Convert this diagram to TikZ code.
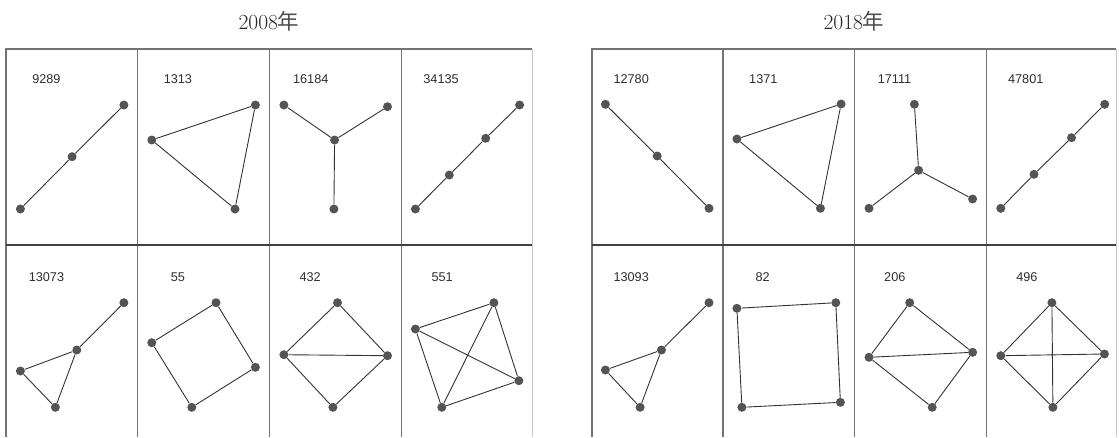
\documentclass[tikz,border=0pt]{standalone}
\usepackage{fontspec}
\newfontfamily\labfont{Liberation Sans}
\newfontfamily\cjk{Noto Sans CJK JP}
\begin{document}
\begin{tikzpicture}[x=1pt,y=-1pt,
  dot/.style={circle,fill=black!67,inner sep=0pt,minimum size=9pt},
  edge/.style={draw=black!80,line width=0.9pt},
  frame/.style={draw=black!55,line width=1.3pt},
  lightframe/.style={draw=black!22,line width=1pt},
  midline/.style={draw=black!75,line width=1.3pt},
  lab/.style={anchor=west,inner sep=0pt,text=black!82,font=\labfont\fontsize{12.7}{14}\selectfont},
  ttl/.style={inner sep=0pt,text=black!85,font=\fontsize{21.5}{24}\selectfont}]
\useasboundingbox (0,0) rectangle (1119,437);
% titles
\node[ttl] (t1) at (269,21) {2008{\cjk\color{black!70}年}};
\node[ttl] (t2) at (854,21) {2018{\cjk\color{black!70}年}};
% frames left
\draw[frame] (6,437) -- (6,49) -- (532,49);
\draw[lightframe] (532,49) -- (532,437);
\draw[frame] (137.5,49) -- (137.5,437);
\draw[frame] (269.6,49) -- (269.6,437);
\draw[frame] (401.8,49) -- (401.8,437);
\draw[midline] (6,245) -- (532,245);
% frames right
\draw[frame] (592,437) -- (592,49) -- (1116,49);
\draw[lightframe] (1116,49) -- (1116,437);
\draw[frame] (723,49) -- (723,437);
\draw[frame] (854.7,49) -- (854.7,437);
\draw[frame] (986.5,49) -- (986.5,437);
\draw[midline] (592,245) -- (1116,245);
% labels
\node[lab] (l1) at (32.1,79) {9289};
\node[lab] (l2) at (163.6,79) {1313};
\node[lab] (l3) at (292.9,79) {16184};
\node[lab] (l4) at (423.2,79) {34135};
\node[lab] (l5) at (28.6,277) {13073};
\node[lab] (l6) at (170.7,277) {55};
\node[lab] (l7) at (299.3,277) {432};
\node[lab] (l8) at (431.4,277) {551};
\node[lab] (r1) at (613.3,79) {12780};
\node[lab] (r2) at (749,79) {1371};
\node[lab] (r3) at (877.6,79) {17111};
\node[lab] (r4) at (1007.9,79) {47801};
\node[lab] (r5) at (613.3,277) {13093};
\node[lab] (r6) at (755.4,277) {82};
\node[lab] (r7) at (884,277) {206};
\node[lab] (r8) at (1016.1,277) {496};
% ---- 9289
\node[dot] (a1) at (123.9,105) {};
\node[dot] (a2) at (72.1,156.7) {};
\node[dot] (a3) at (20.4,209) {};
\draw[edge] (a1) -- (a2) -- (a3);
% ---- 1313
\node[dot] (b1) at (151.8,140) {};
\node[dot] (b2) at (255.4,105) {};
\node[dot] (b3) at (235,209) {};
\draw[edge] (b1) -- (b2) -- (b3) -- (b1);
% ---- 16184
\node[dot] (c1) at (283.9,105) {};
\node[dot] (c2) at (387.5,106.7) {};
\node[dot] (c0) at (334.6,140) {};
\node[dot] (c3) at (333.9,209) {};
\draw[edge] (c0) -- (c1) (c0) -- (c2) (c0) -- (c3);
% ---- 34135
\node[dot] (d1) at (519.6,105) {};
\node[dot] (d2) at (485.7,138.3) {};
\node[dot] (d3) at (449.3,175) {};
\node[dot] (d4) at (415.4,209) {};
\draw[edge] (d1) -- (d2) -- (d3) -- (d4);
% ---- 13073
\node[dot] (e1) at (123.9,302.7) {};
\node[dot] (e2) at (76.8,350) {};
\node[dot] (e3) at (20.4,371) {};
\node[dot] (e4) at (55.4,407.3) {};
\draw[edge] (e1) -- (e2) -- (e3) -- (e4) -- (e2);
% ---- 55
\node[dot] (f1) at (216,302.7) {};
\node[dot] (f2) at (151.8,342.7) {};
\node[dot] (f3) at (191.8,407.3) {};
\node[dot] (f4) at (255.4,367.3) {};
\draw[edge] (f1) -- (f2) -- (f3) -- (f4) -- (f1);
% ---- 432
\node[dot] (g1) at (337.5,302.7) {};
\node[dot] (g2) at (283.9,354.7) {};
\node[dot] (g3) at (387.5,355.7) {};
\node[dot] (g4) at (332.9,407.3) {};
\draw[edge] (g1) -- (g2) -- (g4) -- (g3) -- (g1) (g2) -- (g3);
% ---- 551
\node[dot] (h1) at (493.9,302.7) {};
\node[dot] (h2) at (415.4,329) {};
\node[dot] (h3) at (518.9,380.7) {};
\node[dot] (h4) at (441.8,407.3) {};
\draw[edge] (h2) -- (h1) -- (h3) -- (h4) -- (h2) -- (h3) (h1) -- (h4);
% ---- 12780
\node[dot] (i1) at (605.4,104.3) {};
\node[dot] (i2) at (657.2,156) {};
\node[dot] (i3) at (709,208.3) {};
\draw[edge] (i1) -- (i2) -- (i3);
% ---- 1371
\node[dot] (j1) at (736.9,139) {};
\node[dot] (j2) at (841.1,104) {};
\node[dot] (j3) at (820.4,208.3) {};
\draw[edge] (j1) -- (j2) -- (j3) -- (j1);
% ---- 17111
\node[dot] (k1) at (914.4,104.3) {};
\node[dot] (k0) at (918.6,170.3) {};
\node[dot] (k2) at (869,208.3) {};
\node[dot] (k3) at (972.6,199) {};
\draw[edge] (k0) -- (k1) (k0) -- (k2) (k0) -- (k3);
% ---- 47801
\node[dot] (m1) at (1104.7,104.3) {};
\node[dot] (m2) at (1071.5,137.7) {};
\node[dot] (m3) at (1034,174.3) {};
\node[dot] (m4) at (1000.8,208.3) {};
\draw[edge] (m1) -- (m2) -- (m3) -- (m4);
% ---- 13093
\node[dot] (n1) at (709,302.7) {};
\node[dot] (n2) at (661.5,350) {};
\node[dot] (n3) at (605.4,370) {};
\node[dot] (n4) at (640.1,407.3) {};
\draw[edge] (n1) -- (n2) -- (n3) -- (n4) -- (n2);
% ---- 82
\node[dot] (o1) at (736.9,308.3) {};
\node[dot] (o2) at (835.8,302.7) {};
\node[dot] (o3) at (840.4,402.3) {};
\node[dot] (o4) at (741.9,407.3) {};
\draw[edge] (o1) -- (o2) -- (o3) -- (o4) -- (o1);
% ---- 206
\node[dot] (p1) at (909.7,302.7) {};
\node[dot] (p2) at (869,357.3) {};
\node[dot] (p3) at (972.6,352.3) {};
\node[dot] (p4) at (932.2,407.3) {};
\draw[edge] (p1) -- (p2) -- (p4) -- (p3) -- (p1) (p2) -- (p3);
% ---- 496
\node[dot] (q1) at (1051.9,302.7) {};
\node[dot] (q2) at (1000.8,355.7) {};
\node[dot] (q3) at (1104.4,354) {};
\node[dot] (q4) at (1052.9,407.3) {};
\draw[edge] (q1) -- (q2) -- (q4) -- (q3) -- (q1) (q2) -- (q3) (q1) -- (q4);
\end{tikzpicture}
\end{document}
